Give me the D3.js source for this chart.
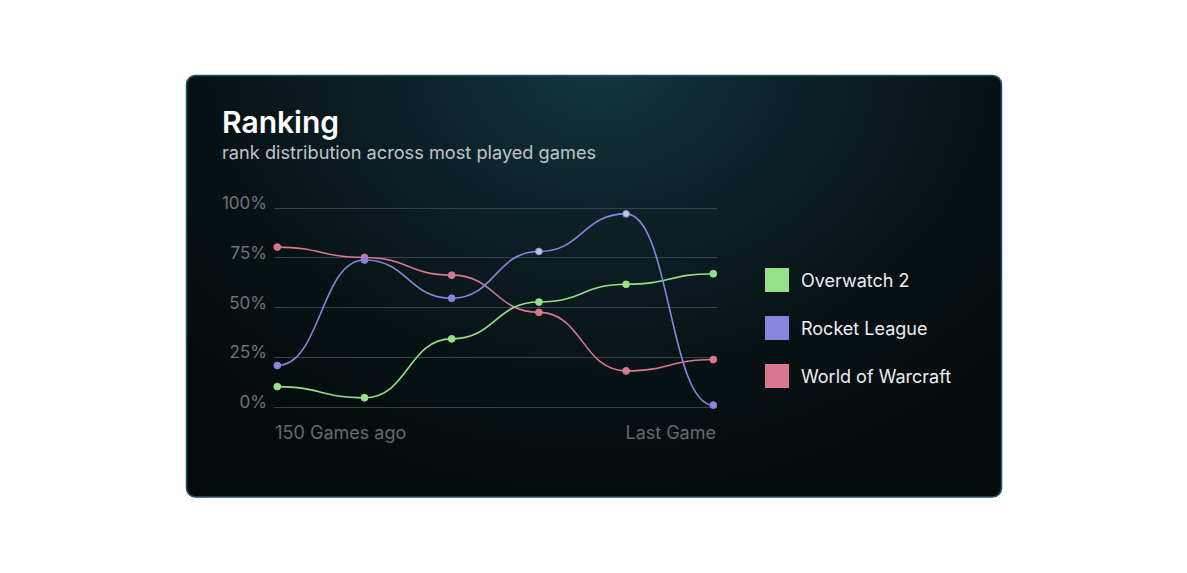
<!DOCTYPE html>
<html>
<head>
<meta charset="utf-8">
<script src="https://cdn.jsdelivr.net/npm/d3@7"></script>
<style>
  html, body { margin: 0; padding: 0; background: #ffffff; }
  body { width: 1187px; height: 573px; overflow: hidden; font-family: Inter, "Noto Sans", sans-serif; }
</style>
</head>
<body>
<svg id="chart" width="1187" height="573"></svg>
<script>
const title = "Ranking";
const subtitle = "rank distribution across most played games";
const steps = [0, 1, 2, 3, 4, 5];
const xLabels = ["150 Games ago", "Last Game"];
const yTicks = [0, 25, 50, 75, 100];
const seriesNames = ["Overwatch 2", "Rocket League", "World of Warcraft"];
const overwatch = [10, 4.4, 34, 52.5, 61.4, 66.7];
const rocketLeague = [20.6, 73.6, 54.4, 77.9, 96.8, 0.7];
const worldOfWarcraft = [80.1, 74.9, 66, 47.3, 17.9, 23.6];
const colors = ["#94e189", "#8985de", "#da7790"];
const highlighted = [[], [3, 4], []];

const svg = d3.select("#chart");
const defs = svg.append("defs");
const grad = defs.append("radialGradient")
  .attr("id", "bg").attr("gradientUnits", "userSpaceOnUse")
  .attr("cx", 600).attr("cy", 60).attr("r", 580)
  .attr("gradientTransform", "translate(600,60) scale(1,0.8) translate(-600,-60)");
grad.append("stop").attr("offset", "0%").attr("stop-color", "#14363f");
grad.append("stop").attr("offset", "35%").attr("stop-color", "#0c2127");
grad.append("stop").attr("offset", "70%").attr("stop-color", "#071114");
grad.append("stop").attr("offset", "100%").attr("stop-color", "#050a0c");

svg.append("rect")
  .attr("x", 186.5).attr("y", 75.5).attr("width", 815).attr("height", 421.5)
  .attr("rx", 9).attr("fill", "url(#bg)")
  .attr("stroke", "#1f5560").attr("stroke-width", 1.5);

svg.append("text").attr("x", 222).attr("y", 133)
  .attr("font-size", 30).attr("font-weight", 600).attr("fill", "#ffffff")
  .text(title);
svg.append("text").attr("x", 222).attr("y", 159)
  .attr("font-size", 18.2).attr("fill", "#bfc5c8")
  .text(subtitle);

const x = d3.scaleLinear().domain([0, 5]).range([277.3, 713.3]);
const y = d3.scaleLinear().domain([0, 100]).range([406.5, 207.5]);

const grid = svg.append("g");
grid.selectAll("line").data(yTicks).join("line")
  .attr("x1", 274).attr("x2", 717)
  .attr("y1", d => Math.round(y(d)) + 0.5).attr("y2", d => Math.round(y(d)) + 0.5)
  .attr("stroke", "#3b4245").attr("stroke-width", 1.2);
grid.selectAll("text").data(yTicks).join("text")
  .attr("x", 267).attr("y", d => y(d) + 1.5)
  .attr("text-anchor", "end").attr("font-size", 17).attr("fill", "#6e7579")
  .text(d => d + "%");

svg.append("text").attr("x", x(0) - 2).attr("y", 439)
  .attr("font-size", 18).attr("fill", "#626b6f").text(xLabels[0]);
svg.append("text").attr("x", 716).attr("y", 439).attr("text-anchor", "end")
  .attr("font-size", 18).attr("fill", "#626b6f").text(xLabels[1]);

const allSeries = [overwatch, rocketLeague, worldOfWarcraft];
const line = d3.line().x((d, i) => x(steps[i])).y(d => y(d)).curve(d3.curveBumpX);

const order = [2, 0, 1];
order.forEach(si => {
  const vals = allSeries[si];
  svg.append("path").datum(vals)
    .attr("d", line).attr("fill", "none")
    .attr("stroke", colors[si]).attr("stroke-width", 1.6);
});
order.forEach(si => {
  const vals = allSeries[si];
  svg.append("g").selectAll("circle").data(vals).join("circle")
    .attr("cx", (d, i) => x(steps[i])).attr("cy", d => y(d)).attr("r", 3.4)
    .attr("fill", (d, i) => highlighted[si].includes(i) ? "#c4c4dc" : colors[si])
    .attr("stroke", colors[si]).attr("stroke-width", 1);
});

const legend = svg.append("g");
const items = legend.selectAll("g").data(seriesNames).join("g")
  .attr("transform", (d, i) => `translate(765, ${268 + i * 48})`);
items.append("rect").attr("width", 24).attr("height", 24)
  .attr("fill", (d, i) => colors[i]);
items.append("text").attr("x", 36).attr("y", 19)
  .attr("font-size", 18).attr("fill", "#eceeef").text(d => d);
</script>
</body>
</html>
